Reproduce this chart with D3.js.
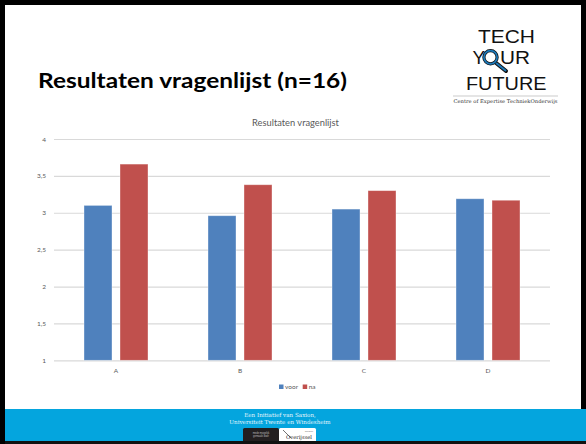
<!DOCTYPE html>
<html>
<head>
<meta charset="utf-8">
<script src="https://cdn.jsdelivr.net/npm/d3@7"></script>
<style>
  html, body { margin: 0; padding: 0; background: #fff; }
  svg { display: block; }
</style>
</head>
<body>
<script>
// ---- data ----
const categories = ["A", "B", "C", "D"];
const seriesNames = ["voor", "na"];
const voor = [3.10, 2.96, 3.05, 3.19];
const na = [3.66, 3.38, 3.30, 3.17];
const yTicks = [1, 1.5, 2, 2.5, 3, 3.5, 4];
const slideTitle = "Resultaten vragenlijst (n=16)";
const chartTitle = "Resultaten vragenlijst";
const footerLines = ["Een Initiatief van Saxion,", "Universiteit Twente en Windesheim"];

const W = 586, H = 444;
const colors = { voor: "#4f81bd", na: "#c0504d" };

const svg = d3.select("body").append("svg").attr("width", W).attr("height", H);

// slide background & frame
svg.append("rect").attr("x", 0).attr("y", 0).attr("width", W).attr("height", H).attr("fill", "#000");
svg.append("rect").attr("x", 5).attr("y", 5).attr("width", 576).attr("height", 436).attr("fill", "#fff");

// footer band
svg.append("rect").attr("x", 5).attr("y", 409).attr("width", W - 5).attr("height", 32).attr("fill", "#04a5de");
svg.selectAll("text.footer").data(footerLines).enter().append("text")
  .attr("class", "footer")
  .attr("x", 280).attr("y", (d, i) => 416.5 + i * 7.7)
  .attr("text-anchor", "middle")
  .attr("font-family", "DejaVu Serif, serif").attr("font-size", 5.6)
  .attr("fill", "#e6f6fc")
  .text(d => d);
// small logos in footer
svg.append("rect").attr("x", 243).attr("y", 428).attr("width", 36).attr("height", 14).attr("rx", 1.5).attr("fill", "#231f20");
svg.append("text").attr("x", 261).attr("y", 433.5).attr("text-anchor", "middle")
  .attr("font-family", "Liberation Sans, sans-serif").attr("font-size", 2.6).attr("fill", "#bbb").text("mede mogelijk");
svg.append("text").attr("x", 261).attr("y", 437).attr("text-anchor", "middle")
  .attr("font-family", "Liberation Sans, sans-serif").attr("font-size", 2.6).attr("fill", "#bbb").text("gemaakt door");
svg.append("rect").attr("x", 279).attr("y", 428).attr("width", 37).attr("height", 14).attr("rx", 1.5).attr("fill", "#fff");
svg.append("path").attr("d", "M283,430 L291,438").attr("stroke", "#333").attr("stroke-width", 0.7);
svg.append("text").attr("x", 299).attr("y", 438.5).attr("text-anchor", "middle")
  .attr("font-family", "DejaVu Serif, serif").attr("font-size", 5.2).attr("fill", "#222").text("Overijssel");
svg.append("text").attr("x", 309).attr("y", 431.5).attr("text-anchor", "middle")
  .attr("font-family", "Liberation Sans, sans-serif").attr("font-size", 2).attr("fill", "#555").text("provincie");
svg.append("rect").attr("x", 5).attr("y", 441).attr("width", W).attr("height", 3).attr("fill", "#111");

// slide title
svg.append("text").attr("x", 38).attr("y", 88)
  .attr("font-family", "Lato, 'Open Sans', sans-serif").attr("font-weight", 700).attr("font-size", 21)
  .attr("textLength", 309).attr("lengthAdjust", "spacingAndGlyphs")
  .attr("fill", "#000").text(slideTitle);

// logo
const logo = svg.append("g");
const logoFont = "'Liberation Sans', Arial, sans-serif";
const logoSize = 18.5;
function logoText(str, x0, yb, len) {
  logo.append("text").attr("x", x0).attr("y", yb).attr("font-family", logoFont)
    .attr("font-size", logoSize).attr("textLength", len).attr("lengthAdjust", "spacingAndGlyphs")
    .attr("fill", "#111").text(str);
}
logoText("TECH", 478, 43.3, 57);
logoText("Y", 472.5, 64.3, 12.5);
logoText("UR", 500, 64.3, 30);
logo.append("line").attr("x1", 495.5).attr("y1", 62.5).attr("x2", 506).attr("y2", 71)
  .attr("stroke", "#111").attr("stroke-width", 4).attr("stroke-linecap", "round");
logo.append("line").attr("x1", 495.5).attr("y1", 62.5).attr("x2", 505.5).attr("y2", 70.5)
  .attr("stroke", "#1b78b8").attr("stroke-width", 2).attr("stroke-linecap", "round");
logo.append("circle").attr("cx", 490.5).attr("cy", 57.3).attr("r", 6.6)
  .attr("fill", "none").attr("stroke", "#111").attr("stroke-width", 3.2);
logo.append("circle").attr("cx", 490.5).attr("cy", 57.3).attr("r", 6.6)
  .attr("fill", "none").attr("stroke", "#1b78b8").attr("stroke-width", 1.7);
logoText("FUTURE", 466, 90, 80.5);
logo.append("line").attr("x1", 453).attr("y1", 96).attr("x2", 558).attr("y2", 96)
  .attr("stroke", "#aaa").attr("stroke-width", 0.6);
logo.append("text").attr("x", 505.5).attr("y", 102.6).attr("text-anchor", "middle")
  .attr("font-family", "DejaVu Serif, serif").attr("font-size", 5)
  .attr("textLength", 104).attr("lengthAdjust", "spacingAndGlyphs").attr("fill", "#333")
  .text("Centre of Expertise TechniekOnderwijs");

// ---- chart ----
const chartFont = "Lato, 'Open Sans', sans-serif";
const x = d3.scaleBand().domain(categories).range([54, 550]);
const x1 = d3.scaleBand().domain(seriesNames).range([30, 94]).paddingInner(8 / 36);
const y = d3.scaleLinear().domain([1, 4]).range([360.3, 139]);

svg.append("text").attr("x", 295.5).attr("y", 126)
  .attr("text-anchor", "middle").attr("font-family", chartFont).attr("font-size", 9.3)
  .attr("fill", "#595959").text(chartTitle);

const yAxis = svg.append("g").attr("transform", "translate(54,0)")
  .call(d3.axisLeft(y).tickValues(yTicks).tickSize(-496).tickPadding(8)
    .tickFormat(d => String(d).replace(".", ",")));
yAxis.select(".domain").remove();
yAxis.selectAll(".tick line").attr("stroke", "#d9d9d9").attr("stroke-width", 1.2);
yAxis.selectAll(".tick text").attr("font-family", chartFont).attr("font-size", 6.5).attr("fill", "#595959");

const rows = categories.map((c, i) => ({ cat: c, values: [{ key: "voor", v: voor[i] }, { key: "na", v: na[i] }] }));
const groups = svg.selectAll("g.cat").data(rows).enter().append("g")
  .attr("class", "cat").attr("transform", d => `translate(${x(d.cat)},0)`);
groups.selectAll("rect").data(d => d.values).enter().append("rect")
  .attr("x", d => x1(d.key)).attr("width", x1.bandwidth())
  .attr("y", d => y(d.v)).attr("height", d => y(1) - y(d.v))
  .attr("fill", d => colors[d.key])
  .attr("stroke", "#ffffff").attr("stroke-opacity", 0.45).attr("stroke-width", 0.8);

const xAxis = svg.append("g").attr("transform", `translate(0,${y(1)})`)
  .call(d3.axisBottom(x).tickSize(0).tickPadding(8));
xAxis.select(".domain").remove();
xAxis.selectAll(".tick text").attr("font-family", chartFont).attr("font-size", 6.5).attr("fill", "#595959");

// legend
const legendItems = [{ key: "voor", x: 279 }, { key: "na", x: 302.7 }];
const lg = svg.selectAll("g.legend").data(legendItems).enter().append("g").attr("class", "legend")
  .attr("transform", d => `translate(${d.x},384.5)`);
lg.append("rect").attr("width", 4.5).attr("height", 4.5).attr("fill", d => colors[d.key]);
lg.append("text").attr("x", 6).attr("y", 4.5).attr("font-family", chartFont).attr("font-size", 6.5)
  .attr("fill", "#595959").text(d => d.key);
</script>
</body>
</html>
